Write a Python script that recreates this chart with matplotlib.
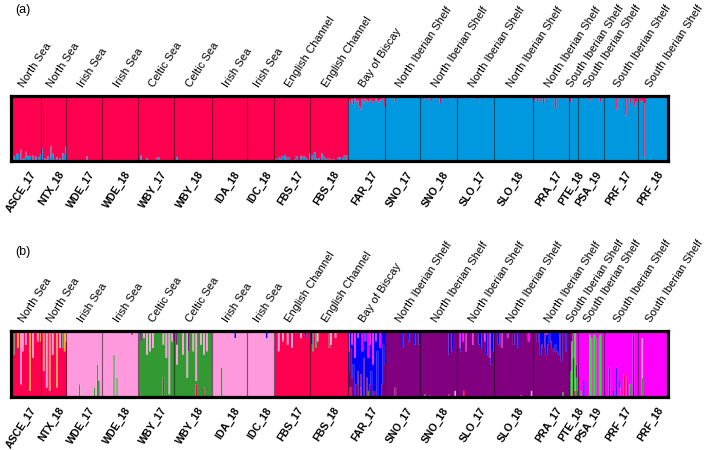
import numpy as np
import matplotlib.pyplot as plt

plt.rcParams['font.family'] = ['Liberation Sans', 'DejaVu Sans']

pops = ['ASCE_17', 'NTX_18', 'WDE_17', 'WDE_18', 'WBY_17', 'WBY_18', 'IDA_18', 'IDC_18',
        'FBS_17', 'FBS_18', 'FAR_17', 'SNO_17', 'SNO_18', 'SLO_17', 'SLO_18', 'PRA_17',
        'PTE_18', 'PSA_19', 'PRF_17', 'PRF_18']
regions = ['North Sea', 'North Sea', 'Irish Sea', 'Irish Sea', 'Celtic Sea', 'Celtic Sea',
           'Irish Sea', 'Irish Sea', 'English Channel', 'English Channel', 'Bay of Biscay',
           'North Iberian Shelf', 'North Iberian Shelf', 'North Iberian Shelf',
           'North Iberian Shelf', 'North Iberian Shelf', 'South Iberian Shelf',
           'South Iberian Shelf', 'South Iberian Shelf', 'South Iberian Shelf']
n_ind = [20, 17, 24, 24, 24, 25, 24, 18, 24, 25, 25, 23, 25, 25, 26, 24, 6, 17, 23, 20]

# (a) K=2 : main cluster per population and % of the other cluster per individual
main_a = ['red'] * 10 + ['blue'] * 10
minor_a = [
    [3, 8, 4, 11, 12, 2, 18, 3, 5, 15, 8, 8, 8, 2, 9, 3, 8, 2, 6, 11],
    [20, 2, 5, 3, 8, 2, 23, 12, 4, 1, 7, 2, 5, 2, 13, 10, 23],
    [0, 0, 0, 0, 0, 0, 0, 0, 0, 0, 0, 0, 0, 8, 0, 0, 0, 0, 0, 0, 0, 0, 0, 0],
    [0, 0, 0, 0, 0, 0, 0, 0, 0, 0, 0, 0, 0, 0, 2, 0, 0, 0, 0, 0, 0, 0, 0, 0],
    [0, 9, 0, 0, 0, 5, 0, 0, 0, 0, 0, 0, 6, 6, 0, 0, 2, 0, 0, 0, 0, 0, 0, 0],
    [0, 7, 0, 2, 0, 0, 0, 0, 0, 2, 0, 0, 0, 0, 2, 0, 0, 0, 0, 0, 0, 0, 0, 0, 0],
    [0, 0, 0, 0, 0, 0, 0, 0, 0, 0, 0, 0, 2, 0, 0, 2, 0, 0, 0, 1, 0, 0, 0, 0],
    [0, 0, 0, 0, 0, 0, 0, 0, 0, 0, 0, 0, 0, 0, 0, 0, 0, 0],
    [4, 0, 6, 3, 8, 7, 10, 3, 7, 7, 2, 0, 0, 3, 8, 2, 1, 9, 6, 8, 6, 3, 2, 12],
    [10, 2, 14, 5, 3, 5, 2, 13, 8, 3, 5, 2, 5, 0, 3, 3, 2, 1, 6, 7, 1, 5, 9, 3, 10],
    [6, 10, 4, 12, 3, 8, 5, 15, 20, 4, 9, 3, 6, 8, 5, 4, 10, 7, 3, 6, 9, 5, 4, 3, 15],
    [0, 0, 0, 0, 0, 0, 8, 0, 0, 0, 0, 0, 0, 0, 0, 0, 0, 0, 0, 0, 0, 0, 0],
    [0, 0, 5, 0, 0, 3, 0, 7, 0, 0, 0, 0, 0, 10, 0, 0, 0, 0, 4, 0, 0, 0, 0, 0, 3],
    [0, 0, 0, 0, 0, 0, 0, 0, 0, 0, 0, 0, 0, 0, 4, 0, 0, 0, 0, 0, 0, 0, 0, 0, 0],
    [0, 0, 0, 0, 0, 0, 0, 0, 0, 0, 0, 0, 0, 0, 0, 2, 0, 0, 0, 0, 0, 0, 0, 0, 0, 0],
    [6, 0, 8, 0, 4, 0, 10, 0, 0, 3, 0, 0, 0, 0, 18, 0, 0, 3, 0, 0, 0, 4, 0, 0],
    [8, 0, 0, 0, 0, 0],
    [0, 0, 0, 0, 0, 0, 0, 6, 3, 0, 0, 0, 0, 0, 8, 0, 0],
    [0, 0, 0, 0, 0, 0, 0, 0, 20, 3, 0, 0, 0, 0, 29, 0, 0, 10, 0, 0, 15, 8, 0],
    [0, 8, 6, 94, 10, 0, 0, 0, 0, 0, 0, 0, 0, 0, 0, 0, 0, 0, 0, 0],
]

# (b) main cluster per population and admixed individuals: (index, cluster, %)
main_b = ['red', 'red', 'pink', 'pink', 'green', 'green', 'pink', 'pink', 'red', 'red',
          'blue', 'purple', 'purple', 'purple', 'purple', 'purple', 'purple', 'magenta',
          'magenta', 'magenta']
admix_b = [
    [(1, 'green', 35), (4, 'orange', 25), (6, 'pink', 80), (7, 'pink', 30), (9, 'pink', 20),
     (12, 'orange', 90), (14, 'pink', 40), (17, 'pink', 15), (19, 'orange', 15)],
    [(1, 'orange', 60), (3, 'pink', 85), (5, 'orange', 90), (7, 'pink', 35), (10, 'orange', 85),
     (12, 'pink', 25), (14, 'green', 25), (15, 'orange', 30), (16, 'pink', 15)],
    [(8, 'green', 20), (18, 'green', 15), (20, 'green', 50), (21, 'green', 25)],
    [(7, 'green', 65), (9, 'green', 30), (19, 'purple', 5)],
    [(0, 'red', 10), (1, 'purple', 15), (3, 'pink', 10), (5, 'pink', 35), (7, 'pink', 30),
     (9, 'pink', 25), (16, 'pink', 20), (16, 'red', 30), (18, 'pink', 40), (20, 'pink', 95),
     (22, 'pink', 15), (23, 'purple', 15)],
    [(1, 'purple', 20), (1, 'pink', 30), (5, 'pink', 35), (8, 'pink', 70), (9, 'purple', 30),
     (12, 'pink', 30), (14, 'pink', 75), (14, 'red', 20), (17, 'pink', 20), (19, 'pink', 35),
     (19, 'red', 15), (21, 'pink', 30)],
    [(6, 'green', 45), (15, 'blue', 10)],
    [(12, 'blue', 10)],
    [(2, 'pink', 30), (5, 'pink', 15), (8, 'pink', 20), (11, 'pink', 25), (17, 'pink', 10),
     (20, 'blue', 10)],
    [(0, 'blue', 20), (1, 'green', 30), (3, 'green', 25), (4, 'pink', 15), (12, 'green', 25),
     (13, 'pink', 20), (16, 'pink', 10)],
    [(0, 'purple', 40), (0, 'magenta', 30), (1, 'purple', 60), (1, 'red', 15), (2, 'magenta', 20),
     (2, 'purple', 30), (3, 'purple', 50), (4, 'magenta', 40), (5, 'purple', 20),
     (6, 'magenta', 10), (6, 'purple', 40), (8, 'red', 15), (8, 'purple', 20), (9, 'magenta', 30),
     (10, 'purple', 60), (11, 'magenta', 15), (12, 'purple', 30), (13, 'green', 10),
     (13, 'magenta', 40), (14, 'magenta', 20), (14, 'purple', 20), (15, 'purple', 40),
     (16, 'magenta', 50), (17, 'purple', 10), (18, 'magenta', 15), (19, 'purple', 70),
     (21, 'magenta', 25), (22, 'purple', 20), (23, 'purple', 80), (24, 'purple', 50)],
    [(6, 'red', 15), (11, 'blue', 25), (15, 'blue', 15), (19, 'blue', 20), (22, 'blue', 20)],
    [(3, 'green', 5), (6, 'green', 3), (19, 'blue', 35), (19, 'red', 5), (21, 'blue', 30),
     (23, 'pink', 10)],
    [(1, 'magenta', 25), (2, 'blue', 30), (3, 'magenta', 15), (4, 'red', 10), (5, 'magenta', 30),
     (10, 'magenta', 20), (14, 'blue', 20), (15, 'blue', 25), (18, 'magenta', 15),
     (19, 'blue', 35), (21, 'magenta', 40), (22, 'blue', 50), (23, 'blue', 30)],
    [(2, 'blue', 20), (4, 'magenta', 25), (8, 'magenta', 10), (12, 'blue', 20), (15, 'blue', 25),
     (17, 'lime', 3), (22, 'magenta', 15), (24, 'pink', 10)],
    [(2, 'blue', 15), (4, 'blue', 35), (5, 'blue', 20), (6, 'blue', 25), (8, 'blue', 30),
     (8, 'magenta', 5), (9, 'blue', 20), (11, 'blue', 15), (12, 'blue', 25), (13, 'blue', 30),
     (14, 'blue', 20), (15, 'blue', 30), (16, 'blue', 35), (18, 'blue', 45), (19, 'green', 8),
     (21, 'blue', 30)],
    [(0, 'green', 40), (1, 'lime', 85), (2, 'magenta', 40), (3, 'lime', 90), (3, 'red', 10),
     (4, 'green', 30), (4, 'magenta', 50), (5, 'magenta', 90)],
    [(1, 'green', 10), (3, 'blue', 25), (7, 'lime', 95), (8, 'lime', 90), (10, 'lime', 95),
     (12, 'green', 90), (14, 'lime', 95)],
    [(3, 'blue', 45), (6, 'blue', 10), (8, 'blue', 45), (10, 'red', 15), (10, 'blue', 10),
     (13, 'red', 35), (15, 'red', 30), (17, 'green', 20), (19, 'blue', 95)],
    [(2, 'pink', 60), (2, 'green', 30), (19, 'blue', 15)],
]

# stacking order bottom -> top
order_a = ['blue', 'red']
colors_a = {'blue': '#0099E0', 'red': '#FF0050'}
order_b = ['red', 'orange', 'green', 'lime', 'pink', 'purple', 'blue', 'magenta']
colors_b = {'red': '#FF0050', 'orange': '#FFA030', 'green': '#339933', 'lime': '#00FF00',
            'pink': '#FF99DD', 'purple': '#800080', 'blue': '#0000FF', 'magenta': '#FF00FF'}

N = sum(n_ind)
bounds = np.concatenate([[0], np.cumsum(n_ind)])
centers = (bounds[:-1] + bounds[1:]) / 2


def q_matrix_a():
    q = {k: np.zeros(N) for k in order_a}
    for i, p in enumerate(pops):
        other = 'blue' if main_a[i] == 'red' else 'red'
        vals = np.array(minor_a[i]) / 100
        q[other][bounds[i]:bounds[i + 1]] = vals
        q[main_a[i]][bounds[i]:bounds[i + 1]] = 1 - vals
    return q


def q_matrix_b():
    q = {k: np.zeros(N) for k in order_b}
    for i, p in enumerate(pops):
        rest = np.ones(n_ind[i])
        for j, k, v in admix_b[i]:
            q[k][bounds[i] + j] += v / 100
            rest[j] -= v / 100
        q[main_b[i]][bounds[i]:bounds[i + 1]] += np.clip(rest, 0, 1)
    return q


def draw(ax, q, order, colors):
    x = np.arange(N + 1)
    base = np.zeros(N)
    for k in order:
        top = base + q[k]
        ax.fill_between(x, np.append(base, base[-1]), np.append(top, top[-1]),
                        step='post', color=colors[k], linewidth=0)
        base = top
    ax.vlines(bounds[1:-1], 0, 1, color='black', lw=0.8, alpha=0.5)
    ax.set_xlim(0, N)
    ax.set_ylim(0, 1)
    ax.set_xticks([])
    ax.set_yticks([])
    for s in ax.spines.values():
        s.set_linewidth(2.3)
    for i in range(len(pops)):
        ax.annotate(regions[i], xy=(centers[i], 1), xycoords=('data', 'axes fraction'),
                    xytext=(0, 5), textcoords='offset points', rotation=57,
                    rotation_mode='anchor', ha='left', va='bottom', fontsize=8.1)
        ax.annotate(pops[i], xy=(centers[i], 0), xycoords=('data', 'axes fraction'),
                    xytext=(3, -6), textcoords='offset points', rotation=57,
                    rotation_mode='anchor', ha='right', va='top', fontsize=7.6,
                    fontweight='bold')


fig = plt.figure(figsize=(7.09, 4.5), dpi=100)
ax_a = fig.add_axes([0.0155, 0.6422, 0.9267, 0.1444])
ax_b = fig.add_axes([0.0155, 0.1178, 0.9267, 0.1467])
draw(ax_a, q_matrix_a(), order_a, colors_a)
draw(ax_b, q_matrix_b(), order_b, colors_b)
fig.text(0.021, 0.978, '(a)', fontsize=9, va='center')
fig.text(0.021, 0.44, '(b)', fontsize=9, va='center')

plt.savefig('out.png', dpi=100)
plt.close()
